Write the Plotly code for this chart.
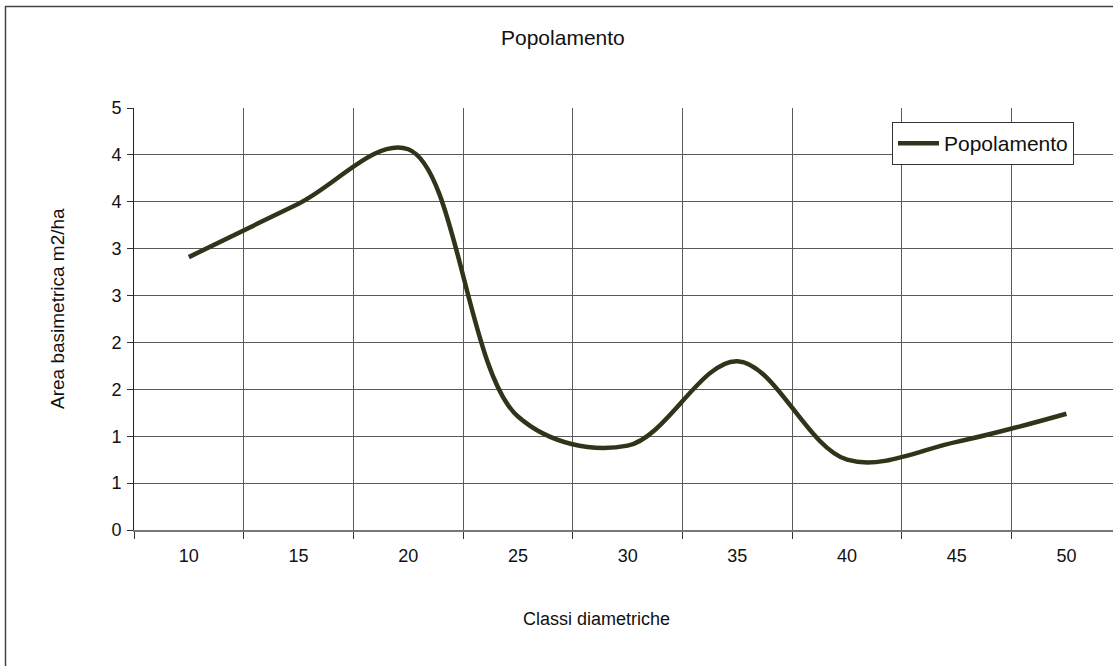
import numpy as np
import plotly.graph_objects as go

# ---- data ----
classes = ["10", "15", "20", "25", "30", "35", "40", "45", "50"]
area_basimetrica = [2.91, 3.48, 4.06, 1.21, 0.90, 1.80, 0.75, 0.94, 1.24]
y_tick_values = [0, 0.5, 1.0, 1.5, 2.0, 2.5, 3.0, 3.5, 4.0, 4.5]
y_tick_labels = ["0", "1", "1", "2", "2", "3", "3", "4", "4", "5"]
series_name = "Popolamento"
chart_title = "Popolamento"
x_title = "Classi diametriche"
y_title = "Area basimetrica m2/ha"

# ---- layout geometry (pixels) ----
W, H = 1113, 666
L, T, B = 134, 108, 530
R = W
PW, PH = R - L, B - T
cat_w = 109.7


def px_x(p):
    return (p - L) / PW


def px_y(p):
    return (B - p) / PH


FONT = "Liberation Sans, Arial, sans-serif"
LINE_COLOR = "#33331a"
GRID = "#5a5a5a"

fig = go.Figure()
fig.add_trace(go.Scatter(
    x=classes, y=area_basimetrica, name=series_name, mode="lines",
    line=dict(color=LINE_COLOR, width=4.5, shape="spline", smoothing=1.0),
    showlegend=True,
))

x_end = (len(classes) - 0.5) - ((L + cat_w * len(classes)) - R) / cat_w

fig.update_layout(
    width=W, height=H,
    margin=dict(l=L, r=W - R, t=T, b=H - B, autoexpand=False),
    paper_bgcolor="white", plot_bgcolor="white",
    font=dict(family=FONT, size=18, color="#000"),
    showlegend=True,
    legend=dict(
        x=px_x(892), y=px_y(122), xanchor="left", yanchor="top",
        bgcolor="white", bordercolor="#333", borderwidth=1,
        itemwidth=41,
        font=dict(size=21, family=FONT, color="#111"),
    ),
    xaxis=dict(
        type="category", range=[-0.5, x_end], tickson="boundaries",
        showgrid=True, gridcolor=GRID, gridwidth=1,
        showline=True, linecolor="#777", linewidth=2,
        ticks="outside", ticklen=7, tickcolor="#333", tickwidth=1,
        ticklabelstandoff=8,
        tickfont=dict(size=18, family=FONT, color="#111"),
        zeroline=False, fixedrange=True,
    ),
    yaxis=dict(
        range=[0, 4.5], tickvals=y_tick_values, ticktext=y_tick_labels,
        showgrid=True, gridcolor=GRID, gridwidth=1,
        showline=True, linecolor="#222", linewidth=1,
        ticks="outside", ticklen=6, tickcolor="#333", tickwidth=1,
        ticklabelstandoff=2,
        tickfont=dict(size=18, family=FONT, color="#111"),
        zeroline=False, fixedrange=True,
    ),
    annotations=[
        dict(text=chart_title, xref="paper", yref="paper", x=px_x(563), y=px_y(38),
             showarrow=False, xanchor="center", yanchor="middle",
             font=dict(size=21, family=FONT, color="#111")),
        dict(text=x_title, xref="paper", yref="paper", x=px_x(596), y=px_y(619),
             showarrow=False, xanchor="center", yanchor="middle",
             font=dict(size=18, family=FONT, color="#111")),
        dict(text=y_title, xref="paper", yref="paper", x=px_x(57), y=px_y(309),
             showarrow=False, xanchor="center", yanchor="middle", textangle=-90,
             font=dict(size=19, family=FONT, color="#111")),
    ],
    shapes=[
        dict(type="rect", xref="paper", yref="paper",
             x0=px_x(5.5), x1=px_x(W + 20), y0=px_y(H + 20), y1=px_y(6.5),
             line=dict(color="#444", width=1.5), fillcolor="rgba(0,0,0,0)", layer="below"),
    ],
)

fig.write_html(
    "out.html",
    config=dict(displayModeBar=False),
    post_script="document.body.style.margin='0';document.body.style.overflow='hidden';",
)
